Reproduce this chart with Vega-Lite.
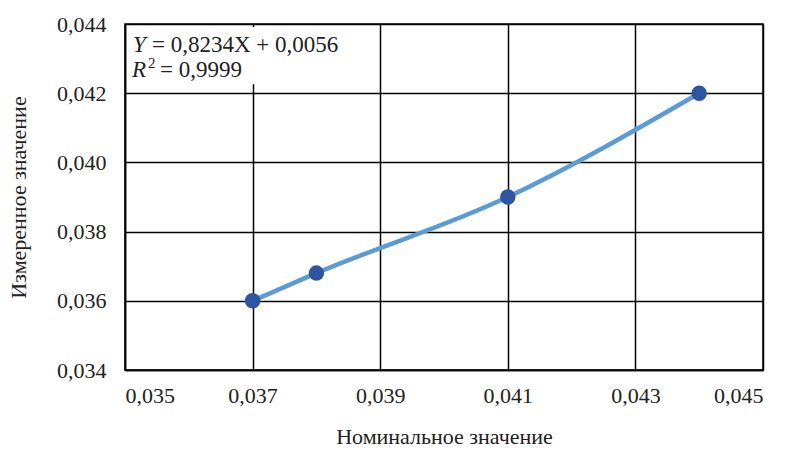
{
  "$schema": "https://vega.github.io/schema/vega-lite/v6.json",
  "width": 638,
  "height": 346,
  "autosize": "none",
  "padding": {"left": 125, "top": 24, "right": 37, "bottom": 91},
  "background": "white",
  "config": {
    "font": "Liberation Serif",
    "view": {"stroke": "black", "strokeWidth": 1.5},
    "text": {"font": "Liberation Serif"},
    "axis": {
      "labelFont": "Liberation Serif",
      "titleFont": "Liberation Serif",
      "labelFontSize": 22,
      "titleFontSize": 22,
      "labelColor": "#222",
      "titleColor": "#222",
      "titleFontWeight": "normal",
      "gridColor": "black",
      "gridOpacity": 1,
      "gridWidth": 1.5,
      "domainColor": "black",
      "domainWidth": 1.5,
      "ticks": false
    }
  },
  "datasets": {
    "pts": [
      {"nominal": 0.037, "measured": 0.036},
      {"nominal": 0.038, "measured": 0.0368},
      {"nominal": 0.041, "measured": 0.039},
      {"nominal": 0.044, "measured": 0.042}
    ],
    "box": [{"x1": 0.03504, "x2": 0.0384, "y1": 0.04391, "y2": 0.04226}],
    "anchor": [{"ax": 0.035, "ay": 0.044, "t1": "Y", "t2": "= 0,8234X + 0,0056", "t3": "R", "t4": "2", "t5": "= 0,9999"}]
  },
  "layer": [
    {
      "data": {"name": "pts"},
      "mark": {"type": "line", "interpolate": "monotone", "color": "#5B9BD5", "strokeWidth": 4.5},
      "encoding": {
        "x": {
          "field": "nominal", "type": "quantitative",
          "scale": {"domain": [0.035, 0.045], "nice": false, "zero": false},
          "axis": {
            "values": [0.035, 0.037, 0.039, 0.041, 0.043, 0.045],
            "labelExpr": "replace(format(datum.value, '.3f'), '.', ',')",
            "labelPadding": 15,
            "title": "Номинальное значение",
            "titlePadding": 20
          }
        },
        "y": {
          "field": "measured", "type": "quantitative",
          "scale": {"domain": [0.034, 0.044], "nice": false, "zero": false},
          "axis": {
            "values": [0.034, 0.036, 0.038, 0.040, 0.042, 0.044],
            "labelExpr": "replace(format(datum.value, '.3f'), '.', ',')",
            "labelPadding": 19,
            "title": "Измеренное значение",
            "titlePadding": 26
          }
        }
      }
    },
    {
      "data": {"name": "pts"},
      "mark": {"type": "point", "filled": true, "color": "#2E55A0", "opacity": 1, "size": 240},
      "encoding": {
        "x": {"field": "nominal", "type": "quantitative"},
        "y": {"field": "measured", "type": "quantitative"}
      }
    },
    {
      "data": {"name": "box"},
      "mark": {"type": "rect", "color": "white"},
      "encoding": {
        "x": {"field": "x1", "type": "quantitative"},
        "x2": {"field": "x2"},
        "y": {"field": "y1", "type": "quantitative"},
        "y2": {"field": "y2"}
      }
    },
    {
      "data": {"name": "anchor"},
      "mark": {"type": "text", "align": "left", "baseline": "alphabetic", "fontSize": 23, "fontStyle": "italic", "color": "#222", "dx": 8, "dy": 28},
      "encoding": {
        "x": {"field": "ax", "type": "quantitative"},
        "y": {"field": "ay", "type": "quantitative"},
        "text": {"field": "t1"}
      }
    },
    {
      "data": {"name": "anchor"},
      "mark": {"type": "text", "align": "left", "baseline": "alphabetic", "fontSize": 23, "color": "#222", "dx": 27, "dy": 28},
      "encoding": {
        "x": {"field": "ax", "type": "quantitative"},
        "y": {"field": "ay", "type": "quantitative"},
        "text": {"field": "t2"}
      }
    },
    {
      "data": {"name": "anchor"},
      "mark": {"type": "text", "align": "left", "baseline": "alphabetic", "fontSize": 23, "fontStyle": "italic", "color": "#222", "dx": 7, "dy": 53},
      "encoding": {
        "x": {"field": "ax", "type": "quantitative"},
        "y": {"field": "ay", "type": "quantitative"},
        "text": {"field": "t3"}
      }
    },
    {
      "data": {"name": "anchor"},
      "mark": {"type": "text", "align": "left", "baseline": "alphabetic", "fontSize": 15, "color": "#222", "dx": 23, "dy": 44},
      "encoding": {
        "x": {"field": "ax", "type": "quantitative"},
        "y": {"field": "ay", "type": "quantitative"},
        "text": {"field": "t4"}
      }
    },
    {
      "data": {"name": "anchor"},
      "mark": {"type": "text", "align": "left", "baseline": "alphabetic", "fontSize": 23, "color": "#222", "dx": 35, "dy": 53},
      "encoding": {
        "x": {"field": "ax", "type": "quantitative"},
        "y": {"field": "ay", "type": "quantitative"},
        "text": {"field": "t5"}
      }
    }
  ]
}
